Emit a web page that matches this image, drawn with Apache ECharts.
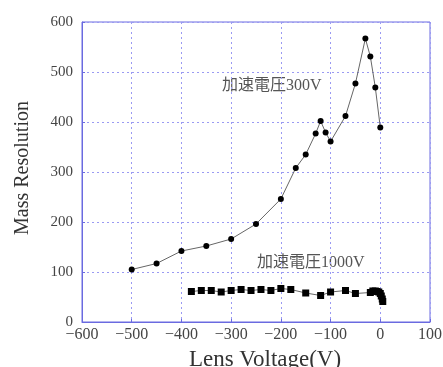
<!DOCTYPE html>
<html>
<head>
<meta charset="utf-8">
<script src="https://cdn.jsdelivr.net/npm/echarts@6/dist/echarts.min.js"></script>
<style>
  html, body { margin: 0; padding: 0; background: #fff; }
  #chart { width: 443px; height: 367px; }
</style>
</head>
<body>
<div id="chart"></div>
<script>
// 加速電圧 300V
const v300x = [-500, -450, -400, -350, -300, -250, -200, -170, -150, -130, -120, -110, -100, -70, -50, -30, -20, -10, 0]
const v300y = [105, 117, 142, 152, 166, 196, 246, 308, 335, 377, 402, 379, 361, 412, 477, 567, 531, 469, 389]
// 加速電圧 1000V
const v1000x = [-380, -360, -340, -320, -300, -280, -260, -240, -220, -200, -180, -150, -120, -100, -70, -50, -20, -15, -10, -7, -3, 0, 2, 4, 5]
const v1000y = [61, 63, 63, 60, 63, 65, 63, 65, 63, 67, 65, 58, 53, 60, 63, 57, 59, 62, 62, 61, 60, 57, 52, 46, 41]

const label300 = '加速電圧300V'
const label1000 = '加速電圧1000V'

const serif = '"Liberation Serif", "Noto Sans CJK JP", serif'
const blue = '#6a6ae0'

const chart = echarts.init(document.getElementById('chart'))

chart.setOption({
  animation: false,
  grid: { left: 82, right: 13, top: 22, bottom: 45, show: true, borderColor: blue, borderWidth: 1, outerBoundsMode: 'none', containLabel: false },
  xAxis: {
    type: 'value', min: -600, max: 100, interval: 100,
    name: 'Lens Voltage(V)', nameLocation: 'middle', nameGap: 26,
    nameTextStyle: { fontFamily: serif, fontSize: 23, color: '#333', padding: [0, 0, 0, 18] },
    axisLine: { onZero: false, lineStyle: { color: blue } },
    axisTick: { inside: true, length: 3, lineStyle: { color: blue } },
    axisLabel: { fontFamily: serif, fontSize: 16, color: '#444', margin: 5, formatter: v => String(v).replace('-', '\u2212') },
    splitLine: { lineStyle: { color: '#9a9af2', type: [2, 3], width: 1 } }
  },
  yAxis: {
    type: 'value', min: 0, max: 600, interval: 100,
    name: 'Mass Resolution', nameLocation: 'middle', nameGap: 49,
    nameTextStyle: { fontFamily: serif, fontSize: 20, color: '#333', padding: [0, 0, 0, 8] },
    axisLine: { show: true, onZero: false, lineStyle: { color: blue } },
    axisTick: { inside: true, length: 3, lineStyle: { color: blue } },
    axisLabel: { fontFamily: serif, fontSize: 15, color: '#444', margin: 9 },
    splitLine: { lineStyle: { color: '#9a9af2', type: [2, 3], width: 1 } }
  },
  graphic: [
    { type: 'text', left: 222, top: 78, style: { text: label300, font: '16px ' + serif, fill: '#555' } },
    { type: 'text', left: 257, top: 255, style: { text: label1000, font: '16px ' + serif, fill: '#555' } }
  ],
  series: [
    {
      name: label300,
      type: 'line',
      data: v300x.map((x, i) => [x, v300y[i]]),
      symbol: 'circle', symbolSize: 6,
      itemStyle: { color: '#000' },
      lineStyle: { color: '#666', width: 1 }
    },
    {
      name: label1000,
      type: 'line',
      data: v1000x.map((x, i) => [x, v1000y[i]]),
      symbol: 'rect', symbolSize: 7,
      itemStyle: { color: '#000' },
      lineStyle: { color: '#666', width: 1 }
    }
  ]
})
</script>
</body>
</html>
